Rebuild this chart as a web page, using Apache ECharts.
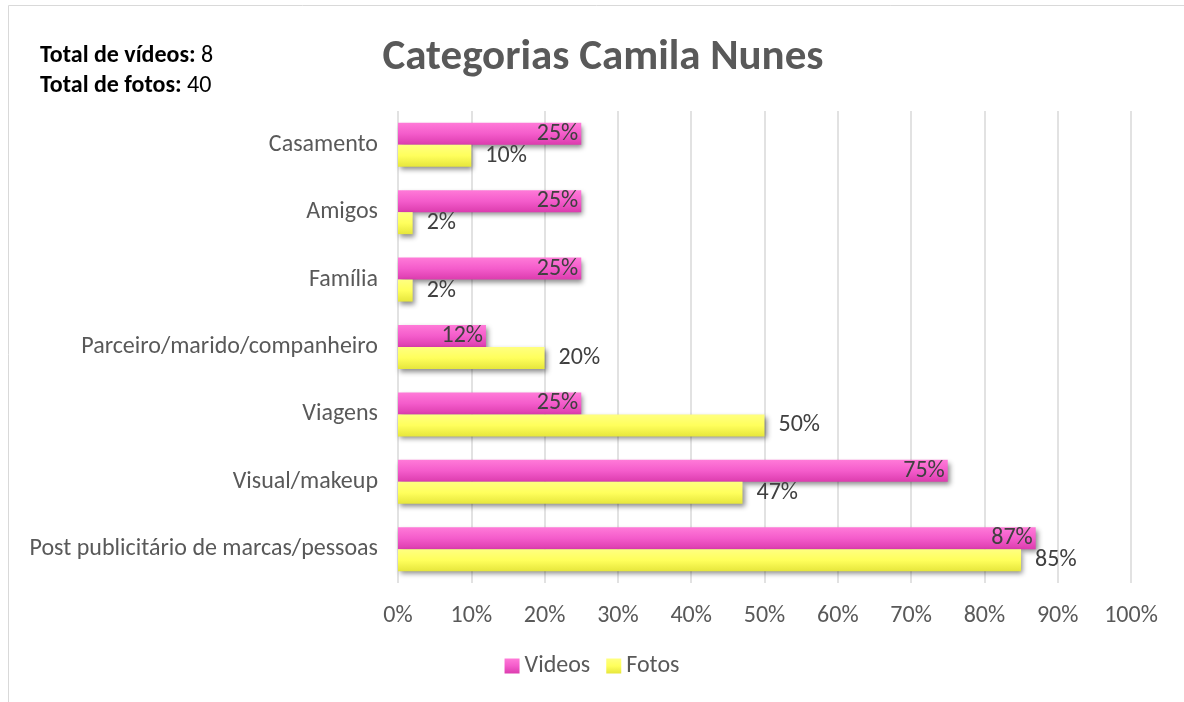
<!DOCTYPE html>
<html><head><meta charset="utf-8">
<script src="https://cdn.jsdelivr.net/npm/echarts@6/dist/echarts.min.js"></script>
<style>html,body{margin:0;padding:0;background:#fff}#c{width:1184px;height:702px}</style>
</head><body><div id="c"></div>
<script>
const categories = ['Casamento','Amigos','Família','Parceiro/marido/companheiro','Viagens','Visual/makeup','Post publicitário de marcas/pessoas'];
const videos = [25, 25, 25, 12, 25, 75, 87];
const fotos = [10, 2, 2, 20, 50, 47, 85];
const FONT = 'Carlito, Lato, "Liberation Sans", sans-serif';
const chart = echarts.init(document.getElementById('c'));
const pink = new echarts.graphic.LinearGradient(0,0,0,1,[{offset:0,color:'#ff7ad8'},{offset:0.5,color:'#f45ccb'},{offset:1,color:'#dc3cae'}]);
const yellow = new echarts.graphic.LinearGradient(0,0,0,1,[{offset:0,color:'#ffff80'},{offset:0.5,color:'#ffff5c'},{offset:1,color:'#e6e63c'}]);
chart.setOption({
  animation:false,
  textStyle:{fontFamily:FONT},
  graphic:[
    {type:'rect',shape:{x:8.5,y:5.5,width:1190,height:720},style:{fill:'none',stroke:'#d9d9d9',lineWidth:1}},
    {type:'text',left:40,top:41,style:{text:'{b|Total de vídeos:} 8\n{b|Total de fotos:} 40',font:'24px '+FONT,fill:'#000',lineHeight:30,rich:{b:{fontWeight:'bold',fontSize:24,fontFamily:FONT,fill:'#000'}}}}
  ],
  title:{text:'Categorias Camila Nunes',left:598,textAlign:'center',top:32,textStyle:{fontSize:43,fontWeight:'bold',color:'#595959',fontFamily:FONT}},
  legend:{bottom:19,left:'center',itemWidth:15,itemHeight:15,itemGap:16,icon:'rect',textStyle:{fontSize:24,color:'#595959',fontFamily:FONT},data:['Videos','Fotos']},
  grid:{left:398,right:53,top:111,bottom:119,containLabel:false},
  xAxis:{type:'value',min:0,max:100,interval:10,axisLabel:{formatter:'{value}%',fontSize:24,color:'#595959',margin:21,fontFamily:FONT},axisLine:{show:false},axisTick:{show:false},splitLine:{lineStyle:{color:'#d9d9d9',width:1.5}}},
  yAxis:{type:'category',inverse:true,data:categories,axisLine:{show:false},axisTick:{show:false},axisLabel:{fontSize:24,color:'#595959',margin:20,padding:[4,0,0,0],fontFamily:FONT}},
  series:[
    {name:'Videos',type:'bar',data:videos,barWidth:22,barGap:'0%',itemStyle:{color:pink,shadowColor:'rgba(0,0,0,0.45)',shadowBlur:5,shadowOffsetX:2,shadowOffsetY:3},
     label:{show:true,position:'insideRight',formatter:'{c}%',fontSize:24,color:'#404040',distance:3,padding:[3,0,0,0],fontFamily:FONT}},
    {name:'Fotos',type:'bar',data:fotos,barWidth:22,itemStyle:{color:yellow,shadowColor:'rgba(0,0,0,0.45)',shadowBlur:5,shadowOffsetX:2,shadowOffsetY:3},
     label:{show:true,position:'right',formatter:'{c}%',fontSize:24,color:'#404040',distance:14,padding:[5,0,0,0],fontFamily:FONT}}
  ]
});
</script></body></html>
